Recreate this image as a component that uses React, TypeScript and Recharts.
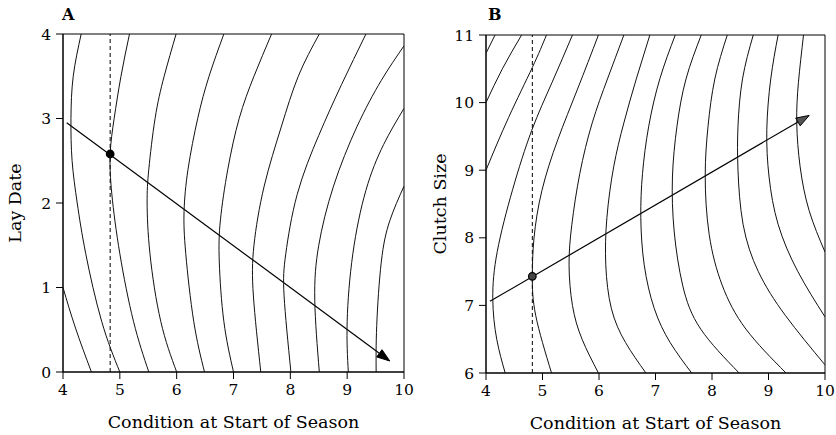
import {
  ComposedChart,
  Scatter,
  XAxis,
  YAxis,
  ReferenceLine,
  ReferenceArea,
} from "recharts";

const FONT = '"DejaVu Serif", "Liberation Serif", serif';

const conditionTicks = [4, 5, 6, 7, 8, 9, 10];
const layDateTicks = [0, 1, 2, 3, 4];
const clutchTicks = [6, 7, 8, 9, 10, 11];

// panel A: fitness contours, each traced top to bottom as [condition, lay date]
const layContour1 = [[4, 1.0], [4.22, 0.52], [4.5, 0]];
const layContour2 = [[4.32, 4], [4.18, 3.5], [4.14, 3], [4.16, 2.5], [4.25, 2.0], [4.4, 1.4], [4.68, 0.6], [5.0, 0]];
const layContour3 = [[5.17, 4], [5.02, 3.5], [4.9, 3], [4.83, 2.58], [4.86, 2.1], [5.0, 1.4], [5.24, 0.6], [5.51, 0]];
const layContour4 = [[5.99, 4], [5.78, 3.5], [5.62, 3], [5.51, 2.4], [5.48, 2.0], [5.53, 1.4], [5.72, 0.6], [6.0, 0]];
const layContour5 = [[6.83, 4], [6.57, 3.5], [6.37, 3], [6.2, 2.4], [6.13, 1.9], [6.16, 1.4], [6.3, 0.6], [6.49, 0]];
const layContour6 = [[7.67, 4], [7.36, 3.5], [7.1, 3], [6.9, 2.4], [6.77, 1.8], [6.75, 1.3], [6.83, 0.6], [7.0, 0]];
const layContour7 = [[8.51, 4], [8.14, 3.5], [7.84, 2.9], [7.54, 2.2], [7.36, 1.5], [7.35, 0.9], [7.48, 0]];
const layContour8 = [[9.33, 4], [8.9, 3.4], [8.5, 2.8], [8.12, 2.1], [7.92, 1.4], [7.89, 0.9], [8.01, 0]];
const layContour9 = [[10, 3.86], [9.6, 3.45], [9.17, 2.9], [8.76, 2.2], [8.5, 1.5], [8.43, 0.85], [8.51, 0]];
const layContour10 = [[10, 3.12], [9.64, 2.69], [9.33, 2.15], [9.1, 1.4], [9.0, 0.6], [9.02, 0]];
const layContour11 = [[10, 2.2], [9.75, 1.79], [9.6, 1.3], [9.52, 0.55], [9.51, 0]];

const layArrow = [[4.065, 2.95], [9.75, 0.13]];
const layOptimum = [[4.83, 2.58]];

// panel B: fitness contours as [condition, clutch size]
const clutchContour1 = [[4.16, 11], [4, 10.73]];
const clutchContour2 = [[4.63, 11], [4.29, 10.5], [4, 10.0]];
const clutchContour3 = [[5.07, 11], [4.82, 10.52], [4.4, 9.78], [4, 9.0]];
const clutchContour4 = [[5.53, 11], [5.17, 10.3], [4.81, 9.59], [4.47, 8.71], [4.2, 7.8], [4.12, 7.1], [4.19, 6.5], [4.34, 6]];
const clutchContour5 = [[5.99, 11], [5.62, 10.2], [5.27, 9.45], [4.99, 8.7], [4.85, 8.0], [4.82, 7.43], [4.88, 6.85], [5.16, 6]];
const clutchContour6 = [[6.44, 11], [6.15, 10.35], [5.88, 9.7], [5.66, 8.95], [5.52, 8.2], [5.47, 7.6], [5.53, 7.0], [5.7, 6.5], [5.99, 6]];
const clutchContour7 = [[6.9, 11], [6.66, 10.35], [6.44, 9.7], [6.26, 9.05], [6.14, 8.3], [6.12, 7.6], [6.22, 6.95], [6.47, 6.45], [6.83, 6]];
const clutchContour8 = [[7.35, 11], [7.08, 10.36], [6.88, 9.65], [6.77, 8.95], [6.74, 8.3], [6.8, 7.6], [6.98, 6.95], [7.26, 6.45], [7.64, 6]];
const clutchContour9 = [[7.81, 11], [7.54, 10.35], [7.38, 9.65], [7.3, 8.9], [7.33, 8.1], [7.48, 7.3], [7.8, 6.65], [8.48, 6]];
const clutchContour10 = [[8.27, 11], [8.05, 10.35], [7.93, 9.65], [7.88, 8.92], [7.95, 8.05], [8.18, 7.3], [8.6, 6.65], [9.31, 6]];
const clutchContour11 = [[8.73, 11], [8.54, 10.35], [8.46, 9.65], [8.46, 9.0], [8.55, 8.2], [8.82, 7.5], [9.3, 6.85], [10, 6.12]];
const clutchContour12 = [[9.17, 11], [9.04, 10.35], [8.97, 9.6], [9.01, 8.9], [9.17, 8.2], [9.52, 7.5], [10, 6.83]];
const clutchContour13 = [[9.62, 11], [9.53, 10.3], [9.5, 9.7], [9.56, 9.05], [9.72, 8.4], [10, 7.79]];

const clutchArrow = [[4.07, 7.06], [9.72, 9.81]];
const clutchOptimum = [[4.82, 7.43]];

const toPts = (c: number[][]) => c.map(([x, y]) => ({ x, y }));

const tickStyle = { fill: "#000", fontSize: 15.5, fontFamily: FONT };

function Arrow(props: any) {
  const { x1, y1, x2, y2, headFill } = props;
  const ang = Math.atan2(y2 - y1, x2 - x1);
  const len = 13;
  const hw = 4.5;
  const bx = x2 - Math.cos(ang) * len;
  const by = y2 - Math.sin(ang) * len;
  const lx = bx - Math.sin(ang) * hw;
  const ly = by + Math.cos(ang) * hw;
  const rx = bx + Math.sin(ang) * hw;
  const ry = by - Math.cos(ang) * hw;
  return (
    <g>
      <line x1={x1} y1={y1} x2={bx} y2={by} stroke="#000" strokeWidth={1.2} />
      <polygon
        points={`${x2},${y2} ${lx},${ly} ${rx},${ry}`}
        fill={headFill}
        stroke="#000"
        strokeWidth={1}
      />
    </g>
  );
}

function Panel(props: any) {
  const {
    width,
    margin,
    yAxisWidth,
    yDomain,
    yTicks,
    yLabel,
    labelOffset,
    contours,
    arrow,
    optimum,
    headFill,
    dotFill,
  } = props;
  return (
    <ComposedChart width={width} height={435} margin={margin}>
      <XAxis
        type="number"
        dataKey="x"
        domain={[4, 10]}
        ticks={conditionTicks}
        interval={0}
        allowDataOverflow
        height={56}
        tickSize={7}
        tickMargin={5}
        tick={tickStyle}
        axisLine={{ stroke: "#000" }}
        tickLine={{ stroke: "#000" }}
        label={{
          value: "Condition at Start of Season",
          position: "insideBottom",
          offset: 0,
          fill: "#000",
          fontSize: 17.5,
          fontFamily: FONT,
        }}
      />
      <YAxis
        type="number"
        dataKey="y"
        domain={yDomain}
        ticks={yTicks}
        interval={0}
        allowDataOverflow
        width={yAxisWidth}
        tickSize={7}
        tickMargin={5}
        tick={tickStyle}
        axisLine={{ stroke: "#000" }}
        tickLine={{ stroke: "#000" }}
        label={{
          value: yLabel,
          angle: -90,
          position: "insideLeft",
          offset: labelOffset,
          fill: "#000",
          fontSize: 17.5,
          fontFamily: FONT,
          style: { textAnchor: "middle" },
        }}
      />
      <ReferenceArea
        x1={4}
        x2={10}
        y1={yDomain[0]}
        y2={yDomain[1]}
        fill="none"
        fillOpacity={0}
        stroke="#000"
        strokeWidth={1}
      />
      {contours.map((c: number[][], i: number) => (
        <Scatter
          key={i}
          data={toPts(c)}
          line={{ stroke: "#111", strokeWidth: 1 }}
          lineJointType="natural"
          shape={() => <g />}
          isAnimationActive={false}
        />
      ))}
      <ReferenceLine
        x={optimum[0][0]}
        stroke="#000"
        strokeWidth={1}
        strokeDasharray="4 3"
      />
      <ReferenceLine
        segment={toPts(arrow)}
        shape={(p: any) => <Arrow {...p} headFill={headFill} />}
      />
      <Scatter
        data={toPts(optimum)}
        fill={dotFill}
        shape={(p: any) => (
          <circle cx={p.cx} cy={p.cy} r={3.8} fill={dotFill} stroke="#000" strokeWidth={1.2} />
        )}
        isAnimationActive={false}
      />
    </ComposedChart>
  );
}

const letterStyle = {
  position: "absolute" as const,
  top: 7,
  fontFamily: FONT,
  fontSize: 16,
  fontWeight: "bold" as const,
  lineHeight: "16px",
};

export default function App() {
  return (
    <div
      style={{
        position: "absolute",
        left: 0,
        top: 0,
        width: 836,
        height: 435,
        background: "#fff",
      }}
    >
      <div style={{ position: "absolute", left: 0, top: 0 }}>
        <Panel
          width={420}
          margin={{ top: 34, right: 16, bottom: 7, left: 5 }}
          yAxisWidth={58}
          yDomain={[0, 4]}
          yTicks={layDateTicks}
          yLabel="Lay Date"
          labelOffset={10}
          contours={[
            layContour1, layContour2, layContour3, layContour4, layContour5, layContour6,
            layContour7, layContour8, layContour9, layContour10, layContour11,
          ]}
          arrow={layArrow}
          optimum={layOptimum}
          headFill="#000"
          dotFill="#000"
        />
      </div>
      <div style={{ position: "absolute", left: 420, top: 0 }}>
        <Panel
          width={416}
          margin={{ top: 35, right: 11, bottom: 6, left: 5 }}
          yAxisWidth={61}
          yDomain={[6, 11]}
          yTicks={clutchTicks}
          yLabel="Clutch Size"
          labelOffset={15}
          contours={[
            clutchContour1, clutchContour2, clutchContour3, clutchContour4, clutchContour5,
            clutchContour6, clutchContour7, clutchContour8, clutchContour9, clutchContour10,
            clutchContour11, clutchContour12, clutchContour13,
          ]}
          arrow={clutchArrow}
          optimum={clutchOptimum}
          headFill="#555"
          dotFill="#444"
        />
      </div>
      <div style={{ ...letterStyle, left: 62 }}>A</div>
      <div style={{ ...letterStyle, left: 488 }}>B</div>
    </div>
  );
}
